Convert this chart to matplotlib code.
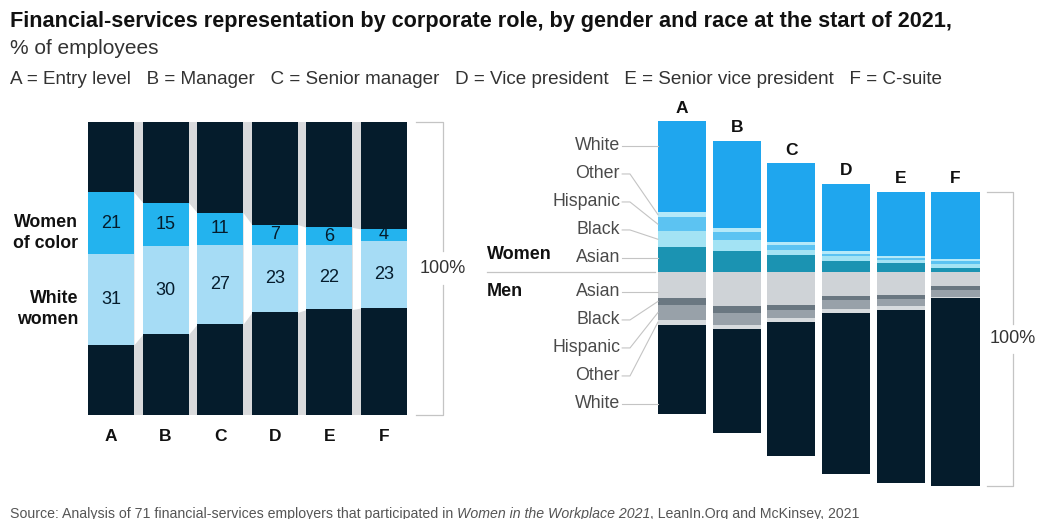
import matplotlib
matplotlib.use("Agg")
import matplotlib.pyplot as plt
import numpy as np

plt.rcParams['font.family'] = ['Liberation Sans', 'DejaVu Sans']

# ---------------- data ----------------
categories = ['A', 'B', 'C', 'D', 'E', 'F']
legend_text = ("A = Entry level   B = Manager   C = Senior manager   D = Vice president   "
               "E = Senior vice president   F = C-suite")

# left chart (% of employees)
women_of_color = [21, 15, 11, 7, 6, 4]
white_women = [31, 30, 27, 23, 22, 23]

# right chart: women by race (stacked upward)
women_white = [31, 30, 27, 23, 22, 23]
women_other = [1.9, 1.4, 0.8, 0.9, 0.6, 0.8]
women_hispanic = [4.7, 2.8, 1.9, 0.8, 0.8, 0.8]
women_black = [5.6, 3.5, 1.7, 1.7, 1.1, 1.5]
women_asian = [8.4, 7.3, 5.8, 3.8, 3.0, 1.3]
# men by race (stacked downward)
men_asian = [8.8, 11.8, 11.4, 8.4, 7.9, 4.8]
men_black = [2.6, 2.3, 1.7, 1.1, 1.5, 1.4]
men_hispanic = [5.0, 4.0, 2.7, 3.2, 2.1, 2.3]
men_other = [1.6, 1.5, 1.5, 1.5, 1.6, 0.3]
men_white = [30.7, 35.6, 45.9, 55.0, 59.1, 64.5]

race_labels = ['White', 'Other', 'Hispanic', 'Black', 'Asian']

NAVY = '#051c2c'
W_COLORS = {'White': '#1fa6ee', 'Other': '#b5e9f9', 'Hispanic': '#5cc3f2',
            'Black': '#a3e3f4', 'Asian': '#1b93b2'}
M_COLORS = {'Asian': '#cfd3d7', 'Black': '#6a7781', 'Hispanic': '#98a1a9',
            'Other': '#d7dbde', 'White': NAVY}
WOC_COLOR = '#23b3ee'
WW_COLOR = '#a6dcf5'
GAP_GRAY = '#d9dadc'
LINE_GRAY = '#c4c4c4'
LABEL_GRAY = '#4a4a4a'

W, H = 1040, 519
fig = plt.figure(figsize=(W / 100, H / 100), dpi=100)

def rect(x0, y0, x1, y1):
    return [x0 / W, (H - y1) / H, (x1 - x0) / W, (y1 - y0) / H]

# ---------------- left chart ----------------
axL = fig.add_axes(rect(0, 90, 470, 460))
axL.set_xlim(-111 / 54.6, (470 - 111) / 54.6)
axL.set_ylim(-15.36, 110.9)
axL.axis('off')

x = np.arange(len(categories))
woc = np.array(women_of_color, float)
ww = np.array(white_women, float)
men_total = 100 - woc - ww
men_bottom = men_total / 2
men_top = men_total - men_bottom
bw = 0.84

axL.fill_between([-bw / 2, len(x) - 1 + bw / 2], 0, 100, color=GAP_GRAY, lw=0, zorder=0)
w_bot = men_bottom
w_top = men_bottom + ww + woc
for i in range(len(x) - 1):
    axL.fill_between([x[i] + bw / 2, x[i + 1] - bw / 2], [w_bot[i], w_bot[i + 1]],
                     [w_top[i], w_top[i + 1]], color='white', lw=0, zorder=1)

axL.bar(x, men_bottom, bw, color=NAVY, zorder=2)
axL.bar(x, ww, bw, bottom=men_bottom, color=WW_COLOR, zorder=2)
axL.bar(x, woc, bw, bottom=men_bottom + ww, color=WOC_COLOR, zorder=2)
axL.bar(x, men_top, bw, bottom=men_bottom + ww + woc, color=NAVY, zorder=2)

for i in range(len(x)):
    axL.text(x[i], men_bottom[i] + ww[i] / 2, f"{white_women[i]}", ha='center', va='center',
             fontsize=13, color=NAVY, zorder=3)
    axL.text(x[i], men_bottom[i] + ww[i] + woc[i] / 2, f"{women_of_color[i]}", ha='center',
             va='center', fontsize=13, color=NAVY, zorder=3)
    axL.text(x[i], -7.5, categories[i], ha='center', va='center', fontsize=12.5,
             fontweight='bold', color='#111111')

axL.text(-0.6, 62.1, "Women\nof color", ha='right', va='center', fontsize=12.8,
         fontweight='bold', color='#111111', linespacing=1.3)
axL.text(-0.6, 36.2, "White\nwomen", ha='right', va='center', fontsize=12.8,
         fontweight='bold', color='#111111', linespacing=1.3)

# bracket
bx = 6.08
bl = 5.59
axL.plot([bl, bx, bx], [100, 100, 56], color=LINE_GRAY, lw=0.9)
axL.plot([bx, bx, bl], [44.5, 0, 0], color=LINE_GRAY, lw=0.9)
axL.text(bx, 50, "100%", ha='center', va='center', fontsize=13, color='#333333')

# ---------------- right chart ----------------
axR = fig.add_axes(rect(470, 100, 1040, 495))
axR.set_xlim(-(682 - 470) / 54.7, (1040 - 682) / 54.7)
axR.set_ylim(-76.4, 58.9)
axR.axis('off')
rbw = 0.88

women_series = {'Asian': women_asian, 'Black': women_black, 'Hispanic': women_hispanic,
                'Other': women_other, 'White': women_white}
men_series = {'Asian': men_asian, 'Black': men_black, 'Hispanic': men_hispanic,
              'Other': men_other, 'White': men_white}

seg_mid_w = {}
bottom = np.zeros(len(x))
for r in ['Asian', 'Black', 'Hispanic', 'Other', 'White']:
    v = np.array(women_series[r], float)
    axR.bar(x, v, rbw, bottom=bottom, color=W_COLORS[r], lw=0)
    seg_mid_w[r] = (bottom[0] + v[0] / 2, bottom[0], bottom[0] + v[0])
    bottom = bottom + v
women_tot = bottom.copy()

seg_mid_m = {}
top = np.zeros(len(x))
for r in ['Asian', 'Black', 'Hispanic', 'Other', 'White']:
    v = np.array(men_series[r], float)
    axR.bar(x, -v, rbw, bottom=top, color=M_COLORS[r], lw=0)
    seg_mid_m[r] = (top[0] - v[0] / 2, top[0] - v[0], top[0])
    top = top - v
men_tot = top.copy()

for i in range(len(x)):
    axR.annotate(categories[i], (x[i], women_tot[i]), xytext=(0, 4), textcoords='offset points',
                 ha='center', va='bottom', fontsize=12.5, fontweight='bold', color='#111111')

# race labels with leader lines
lab_x = (620 - 682) / 54.7
kink_x = (630 - 682) / 54.7
bar_left = -rbw / 2
step = 28 / 2.92
for k, r in enumerate(race_labels):
    ly = (272 - 146) / 2.92 - k * step
    axR.text(lab_x, ly, r, ha='right', va='center', fontsize=12.8, color=LABEL_GRAY)
    mid, lo, hi = seg_mid_w[r]
    ty = ly if lo <= ly <= hi else mid
    axR.plot([lab_x + 0.04, kink_x, bar_left], [ly, ly, ty], color=LINE_GRAY, lw=0.8,
             solid_joinstyle='round')
for k, r in enumerate(['Asian', 'Black', 'Hispanic', 'Other', 'White']):
    ly = (272 - 292) / 2.92 - k * step
    axR.text(lab_x, ly, r, ha='right', va='center', fontsize=12.8, color=LABEL_GRAY)
    mid, lo, hi = seg_mid_m[r]
    ty = ly if lo <= ly <= hi else mid
    axR.plot([lab_x + 0.04, kink_x, bar_left], [ly, ly, ty], color=LINE_GRAY, lw=0.8,
             solid_joinstyle='round')

gx = (487 - 682) / 54.7
axR.plot([gx, bar_left - 0.05], [0, 0], color=LINE_GRAY, lw=0.9)
axR.text(gx, (272 - 255) / 2.92, "Women", ha='left', va='center', fontsize=13,
         fontweight='bold', color='#111111')
axR.text(gx, (272 - 292) / 2.92, "Men", ha='left', va='center', fontsize=13,
         fontweight='bold', color='#111111')

# bracket on right
rbx = (1013 - 682) / 54.7
rbl = (987 - 682) / 54.7
ft, fb = women_tot[-1], men_tot[-1]
fm = (ft + fb) / 2
axR.plot([rbl, rbx, rbx], [ft, ft, fm + 5], color=LINE_GRAY, lw=0.9)
axR.plot([rbx, rbx, rbl], [fm - 5, fb, fb], color=LINE_GRAY, lw=0.9)
axR.text(rbx, fm, "100%", ha='center', va='center', fontsize=13, color='#333333')

# ---------------- titles ----------------
fig.text(10 / W, 1 - 22 / H, "Financial-services representation by corporate role, by gender and race at the start of 2021,",
         ha='left', va='center', fontsize=15.6, fontweight='bold', color='#111111')
fig.text(10 / W, 1 - 48 / H, "% of employees", ha='left', va='center', fontsize=15, color='#333333')
fig.text(10 / W, 1 - 79 / H, legend_text, ha='left', va='center', fontsize=13.6, color='#333333')

# source line with italic part
fig.canvas.draw()
renderer = fig.canvas.get_renderer()
parts = [("Source: Analysis of 71 financial-services employers that participated in ", 'normal'),
         ("Women in the Workplace 2021", 'italic'),
         (", LeanIn.Org and McKinsey, 2021", 'normal')]
cx = 10
for s, st in parts:
    t = fig.text(cx / W, 1 - 514 / H, s, ha='left', va='center', fontsize=10.2, style=st,
                 color='#555555')
    bb = t.get_window_extent(renderer)
    cx = bb.x1

fig.savefig("out.png", dpi=100)
